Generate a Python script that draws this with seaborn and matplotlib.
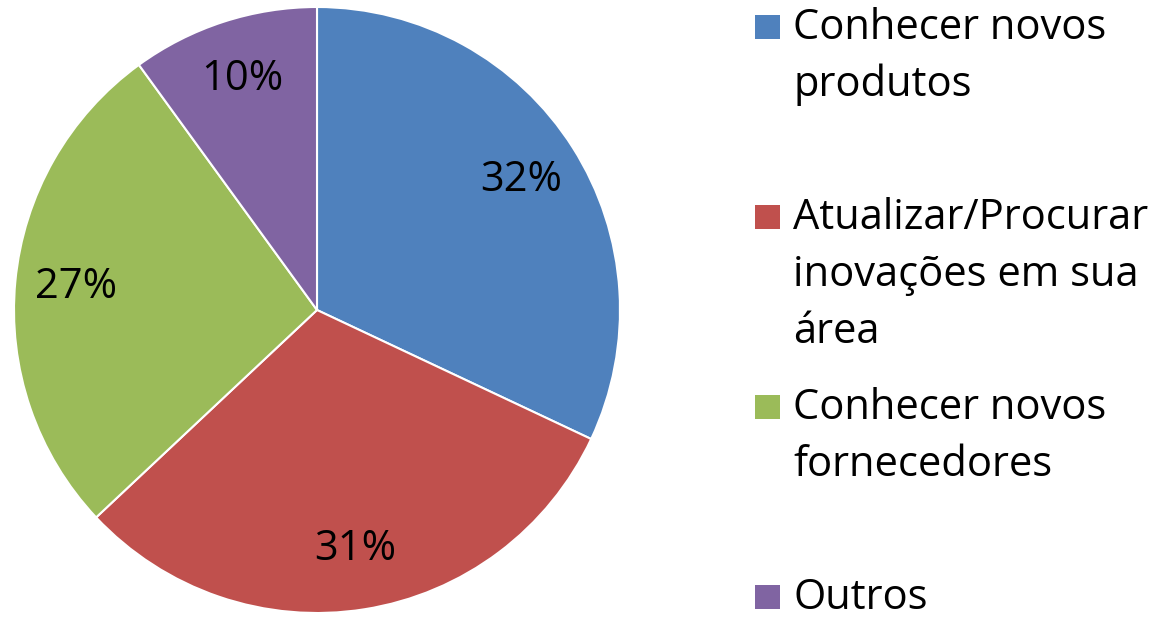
import matplotlib
matplotlib.use("Agg")
import matplotlib.pyplot as plt
import seaborn as sns
from matplotlib.patches import Rectangle

categories = ["Conhecer novos\nprodutos",
              "Atualizar/Procurar\ninovações em sua\nárea",
              "Conhecer novos\nfornecedores",
              "Outros"]
values = [32, 31, 27, 10]
colors = ["#4F81BD", "#C0504D", "#9BBB59", "#8064A2"]

sns.set_theme(style="white")
plt.rcParams['font.family'] = ['Open Sans', 'DejaVu Sans']

W, H = 1161, 617
fig = plt.figure(figsize=(W / 100, H / 100), dpi=100)
fig.patch.set_facecolor("white")

cx, cy, r = 317, 310, 303
ax = fig.add_axes([(cx - r) / W, (H - cy - r) / H, 2 * r / W, 2 * r / H])
wedges, texts, autotexts = ax.pie(
    values, colors=colors, startangle=90, counterclock=False,
    autopct=lambda p: f"{p:.0f}%", pctdistance=0.8,
    wedgeprops=dict(edgecolor="white", linewidth=1.5),
    textprops=dict(fontsize=30, color="black"))
ax.set_xlim(-1, 1)
ax.set_ylim(-1, 1)
ax.set_aspect("equal")
for w in wedges:
    w.set_clip_on(False)

# legend drawn manually (handles aligned to first line)
x_sq, sq_w, sq_h = 755, 25, 24
x_txt = 793
base0, step, lstep = 39, 190, 57
for i, (lab, col) in enumerate(zip(categories, colors)):
    b = base0 + i * step
    fig.patches.append(Rectangle((x_sq / W, (H - b) / H), sq_w / W, sq_h / H,
                                 transform=fig.transFigure, facecolor=col,
                                 edgecolor="none"))
    for j, line in enumerate(lab.split("\n")):
        fig.text(x_txt / W, (H - (b + j * lstep)) / H, line, fontsize=30,
                 va="baseline", ha="left", color="black")

fig.savefig("out.png", dpi=100)
